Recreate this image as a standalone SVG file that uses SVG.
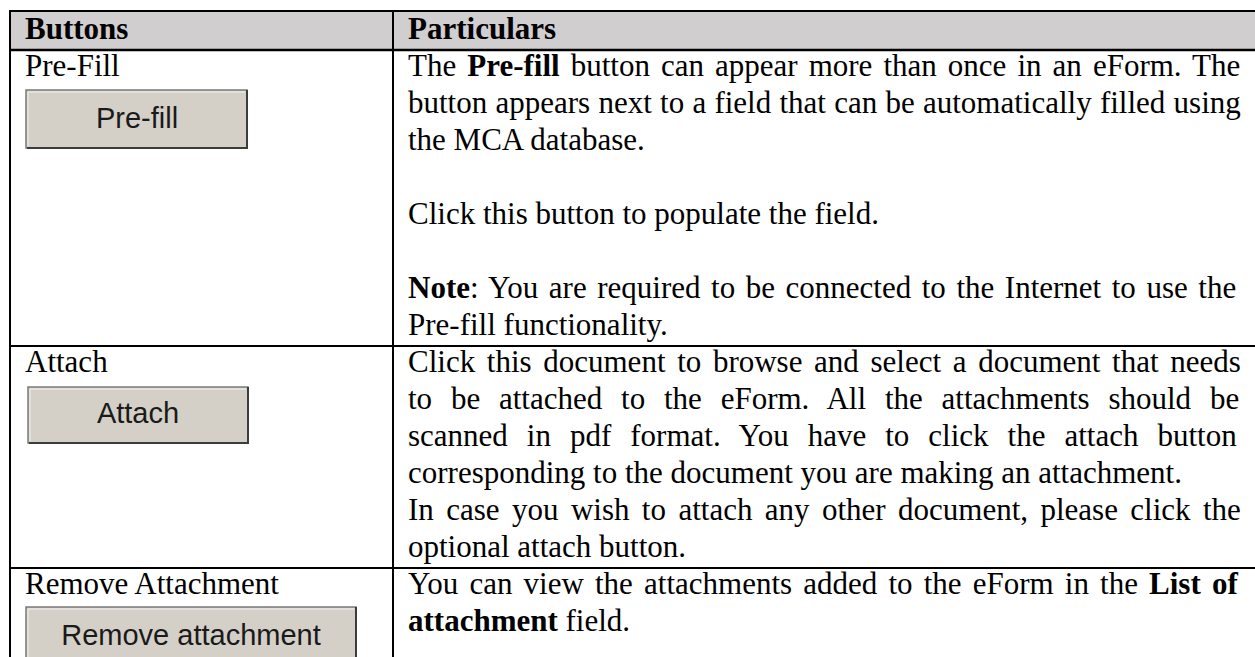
<svg xmlns="http://www.w3.org/2000/svg" width="1255" height="657" viewBox="0 0 1255 657">
<style>
.t{font-family:"Liberation Serif","Times New Roman",serif;font-size:31px;fill:#000}
.b{font-weight:bold}
.btn{fill:#d4d0c8;stroke:#7a7a7a;stroke-width:1.5}
.sh{fill:none;stroke:#3c3c3c;stroke-width:2}
.hl{fill:none;stroke:#f2f2f2;stroke-width:1}
.bt{font-family:"Liberation Sans",Arial,sans-serif;font-size:29px;fill:#1a1a1a;text-anchor:middle}
.grid{stroke:#000;stroke-width:2;fill:none}
</style>
<rect width="1255" height="657" fill="#fff"/>
<rect x="10" y="11" width="1245" height="39" fill="#d0cece"/>
<g id="grid" class="grid">
<line x1="9" y1="11" x2="1255" y2="11"/>
<line x1="10" y1="50" x2="1255" y2="50" stroke-width="2.5"/>
<line x1="10" y1="346" x2="1255" y2="346"/>
<line x1="10" y1="568" x2="1255" y2="568"/>
<line x1="10" y1="10" x2="10" y2="657"/>
<line x1="393" y1="11" x2="393" y2="657"/>
</g>
<g id="header">
<text class="t b" x="25" y="39">Buttons</text>
<text class="t b" x="408" y="39">Particulars</text>
</g>
<g id="row-prefill">
<text class="t" x="25" y="76">Pre-Fill</text>
<g id="btn-prefill">
<rect class="btn" x="26" y="90" width="221" height="58"/>
<polyline class="hl" points="28,146 28,92 245,92"/>
<polyline class="sh" points="27,148 247,148 247,90"/>
<text class="bt" x="137" y="128">Pre-fill</text>
</g>
<text class="t" x="408" y="76" word-spacing="3.3">The <tspan class="b">Pre-fill</tspan> button can appear more than once in an eForm. The</text>
<text class="t" x="408" y="113" word-spacing="0.5">button appears next to a field that can be automatically filled using</text>
<text class="t" x="408" y="150">the MCA database.</text>
<text class="t" x="408" y="224">Click this button to populate the field.</text>
<text class="t" x="408" y="298" word-spacing="2.8"><tspan class="b">Note</tspan>: You are required to be connected to the Internet to use the</text>
<text class="t" x="408" y="335">Pre-fill functionality.</text>
</g>
<g id="row-attach">
<text class="t" x="25" y="372">Attach</text>
<g id="btn-attach">
<rect class="btn" x="28" y="387" width="220" height="56"/>
<polyline class="hl" points="30,441 30,389 246,389"/>
<polyline class="sh" points="29,443 248,443 248,387"/>
<text class="bt" x="138" y="423">Attach</text>
</g>
<text class="t" x="408" y="372" word-spacing="3.9">Click this document to browse and select a document that needs</text>
<text class="t" x="408" y="409" word-spacing="11.06">to be attached to the eForm. All the attachments should be</text>
<text class="t" x="408" y="446" word-spacing="11.24">scanned in pdf format. You have to click the attach button</text>
<text class="t" x="408" y="483">corresponding to the document you are making an attachment.</text>
<text class="t" x="408" y="520" word-spacing="4.66">In case you wish to attach any other document, please click the</text>
<text class="t" x="408" y="557">optional attach button.</text>
</g>
<g id="row-remove">
<text class="t" x="25" y="594">Remove Attachment</text>
<g id="btn-remove">
<rect class="btn" x="26" y="607" width="330" height="58"/>
<polyline class="hl" points="28,665 28,609 354,609"/>
<polyline class="sh" points="356,607 356,665"/>
<text class="bt" x="191" y="645">Remove attachment</text>
</g>
<text class="t" x="408" y="594" word-spacing="3.4">You can view the attachments added to the eForm in the <tspan class="b">List of</tspan></text>
<text class="t" x="408" y="631"><tspan class="b">attachment</tspan> field.</text>
</g>
</svg>
